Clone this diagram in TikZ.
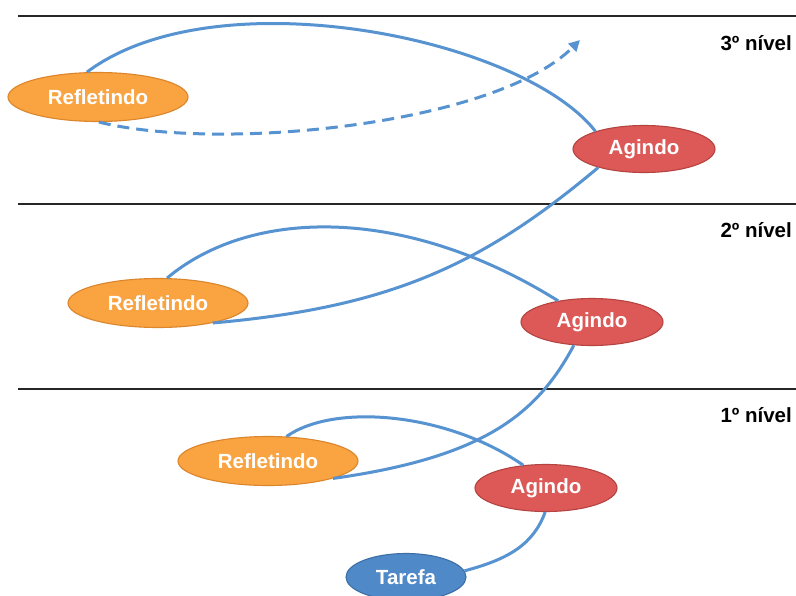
\documentclass[tikz,border=0pt]{standalone}
\usepackage{fontspec}
\setmainfont{Liberation Sans}
\usetikzlibrary{shapes.geometric,arrows.meta}
\definecolor{orfill}{HTML}{F9A341}
\definecolor{ordraw}{HTML}{DB852C}
\definecolor{redfill}{HTML}{DC5957}
\definecolor{reddraw}{HTML}{B54340}
\definecolor{bluefill}{HTML}{4F89C8}
\definecolor{bluedraw}{HTML}{3D6FA6}
\definecolor{connc}{HTML}{5693D0}
\begin{document}
\begin{tikzpicture}[x=1pt,y=1pt,
  elbase/.style={ellipse, inner sep=0pt, line width=1.1pt, text=white,
    font=\fontsize{20.5}{24}\selectfont\bfseries},
  refl/.style={elbase, fill=orfill, draw=ordraw, minimum width=180pt, minimum height=49pt},
  agin/.style={elbase, fill=redfill, draw=reddraw, minimum width=142pt, minimum height=47pt},
  taref/.style={elbase, fill=bluefill, draw=bluedraw, minimum width=120pt, minimum height=47pt},
  connline/.style={draw=connc, line width=3pt},
  dashline/.style={connline, dash pattern=on 12pt off 7pt, -{Triangle[length=11pt,width=11pt]}},
  lvl/.style={anchor=east, inner sep=0pt, font=\fontsize{20.5}{24}\selectfont\bfseries},
  sepline/.style={line width=2pt, draw=black!85}
]
\useasboundingbox (0,0) rectangle (796,-595);
\clip (0,0) rectangle (796,-595);
\fill[white] (0,0) rectangle (796,-595);

% separators
\coordinate (s1a) at (18,-16);  \coordinate (s1b) at (796,-16);
\coordinate (s2a) at (18,-204); \coordinate (s2b) at (796,-204);
\coordinate (s3a) at (18,-389); \coordinate (s3b) at (796,-389);
\draw[sepline] (s1a) -- (s1b);
\draw[sepline] (s2a) -- (s2b);
\draw[sepline] (s3a) -- (s3b);

% level labels
\node[lvl] (n3) at (792,-43) {3º nível};
\node[lvl] (n2) at (792,-230) {2º nível};
\node[lvl] (n1) at (792,-415) {1º nível};

% nodes
\node[refl] (r3) at (98,-97) {Refletindo};
\node[agin] (a3) at (644,-149) {Agindo};
\node[refl] (r2) at (158,-303) {Refletindo};
\node[agin] (a2) at (592,-322) {Agindo};
\node[refl] (r1) at (268,-461) {Refletindo};
\node[agin] (a1) at (546,-488) {Agindo};
\node[taref] (t) at (406,-577) {Tarefa};

\coordinate (tip) at (580,-40);

% connectors
\draw[connline] (t.6) to[out=15,in=-110,out distance=45pt,in distance=35pt] (a1.-92);
\draw[connline] (a1.135) to[out=145,in=35,out distance=90pt,in distance=60pt] (r1.53);
\draw[connline] (r1.-15) to[out=8,in=-118,out distance=150pt,in distance=80pt] (a2.-128);
\draw[connline] (a2.148) to[out=148,in=40,out distance=180pt,in distance=110pt] (r2.70);
\draw[connline] (r2.-20) to[out=5,in=-140,out distance=180pt,in distance=150pt] (a3.-158);
\draw[connline] (a3.160) to[out=128,in=37,out distance=120pt,in distance=160pt] (r3.114);
\draw[dashline] (r3.-88) to[out=-14,in=-135,out distance=125pt,in distance=120pt] (tip);
\end{tikzpicture}
\end{document}
